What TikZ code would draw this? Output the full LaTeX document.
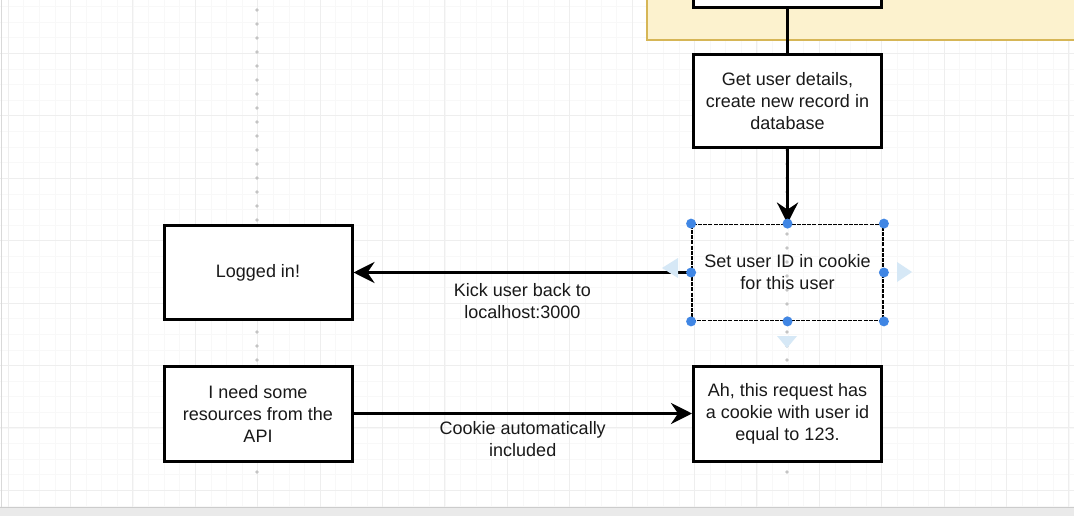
\documentclass[tikz,border=0pt]{standalone}
\usepackage{fontspec}
\setmainfont{Liberation Sans}
\usetikzlibrary{arrows.meta}
\definecolor{gridminor}{RGB}{248,248,248}
\definecolor{gridmajor}{RGB}{238,238,238}
\definecolor{yfill}{RGB}{252,242,206}
\definecolor{ydraw}{RGB}{214,182,86}
\definecolor{handle}{RGB}{64,134,228}
\definecolor{hover}{RGB}{214,232,246}
\definecolor{dotgray}{RGB}{196,196,196}
\definecolor{strip}{RGB}{234,234,234}
\definecolor{txt}{RGB}{25,25,25}
\tikzset{
  box/.style={draw=black, line width=3pt, fill=white, minimum width=188pt, minimum height=94pt,
    align=center, text=txt, font=\fontsize{18}{22}\selectfont, inner sep=0pt},
  selbox/.style={draw=black, line width=1.8pt, dash pattern=on 4pt off 1.2pt, minimum width=191pt, minimum height=96pt,
    align=center, text=txt, font=\fontsize{18}{22}\selectfont, inner sep=0pt},
  link/.style={draw=black, line width=3.8pt},
  conn/.style={link, -{Stealth[length=21pt, width=21pt, inset=7pt]}},
  lbl/.style={text=txt, font=\fontsize{18}{22}\selectfont, align=center, inner sep=0pt},
  hdl/.style={circle, fill=handle, minimum size=10pt, inner sep=0pt},
  guide/.style={dotgray, line width=3.6pt, line cap=round, dash pattern=on 0pt off 14pt}
}
\begin{document}
\begin{tikzpicture}[x=1pt, y=-1pt]
\useasboundingbox (0,0) rectangle (1074,516);
\clip (0,0) rectangle (1074,516);
\fill[white] (0,0) rectangle (1074,516);
% grid
\foreach \i in {0,...,70} {
  \draw[gridminor, line width=0.6pt] ({8+15.6*\i},0) -- ({8+15.6*\i},507);
}
\foreach \i in {0,...,35} {
  \draw[gridminor, line width=0.6pt] (0,{-9+15.6*\i}) -- (1074,{-9+15.6*\i});
}
\foreach \i in {0,...,17} {
  \draw[gridmajor, line width=0.8pt] ({8+62.4*\i},0) -- ({8+62.4*\i},507);
}
\foreach \i in {0,...,9} {
  \draw[gridmajor, line width=0.8pt] (0,{-9+62.4*\i}) -- (1074,{-9+62.4*\i});
}
% guide lines
\draw[guide] (257,10) -- (257,480);
\draw[guide] (787,150) -- (787,480);
% bottom strip and left edge
\fill[strip] (0,507) rectangle (1074,516);
\draw[gray!40, line width=0.8pt] (0,507) -- (1074,507);
\draw[gray!30, line width=1.5pt] (1.5,0) -- (1.5,507);
% yellow container
\draw[fill=yfill, draw=ydraw, line width=1.6pt] (647,-20) rectangle (1100,40);
% boxes
\node[box, minimum height=60pt] (top) at (787.5,-22) {};
\node[box, minimum height=93pt] (get) at (787.5,101.5) {Get user details,\\create new record in\\database};
\node[selbox] (sel) at (787.5,272.5) {Set user ID in cookie\\for this user};
\node[box] (logged) at (258,272.5) {Logged in!};
\node[box, minimum height=95pt] (need) at (258,413.5) {I need some\\resources from the\\API};
\node[box, minimum height=95pt] (ah) at (787.5,413.5) {Ah, this request has\\a cookie with user id\\equal to 123.};
% connectors
\draw[link] (top.south) -- (get.north);
\draw[conn] (get.south) -- (sel.north);
\draw[conn] (sel.west) -- node[lbl, yshift=-29pt] {Kick user back to\\localhost:3000} (logged.east);
\draw[conn] (need.east) -- node[lbl, yshift=-26pt] {Cookie automatically\\included} (ah.west);
% hover arrows
\fill[hover] (662,268) -- (678,258) -- (678,278) -- cycle;
\fill[hover] (912,272) -- (897,262) -- (897,282) -- cycle;
\fill[hover] (787,348) -- (777,336) -- (797,336) -- cycle;
% selection handles
\foreach \a in {north west, north, north east, west, east, south west, south, south east} {
  \node[hdl] at (sel.\a) {};
}
\end{tikzpicture}
\end{document}
